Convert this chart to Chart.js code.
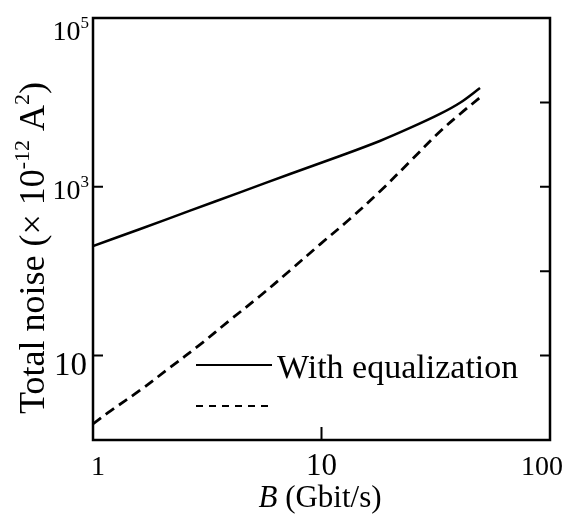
<!DOCTYPE html>
<html>
<head>
<meta charset="utf-8">
<script src="https://cdn.jsdelivr.net/npm/chart.js@4"></script>
<style>
  html, body { margin: 0; padding: 0; background: #fff; }
  #wrap { width: 577px; height: 515px; }
</style>
</head>
<body>
<div id="wrap"><canvas id="chart" width="577" height="515"></canvas></div>
<script>
// Data
const bandwidthEq = [1, 1.61, 2.66, 4.4, 7.28, 12.05, 18, 24.4, 33, 40.4, 49.4];
const noiseEq = [199, 316, 522, 860, 1418, 2317, 3491, 4977, 7300, 9900, 14800];
const bandwidthNoEq = [1, 1.19, 1.61, 2.17, 2.94, 3.98, 5.38, 7.28, 9.85, 13.3, 18, 24.4, 33, 40.4, 49.4];
const noiseNoEq = [1.55, 2.2, 3.9, 7.2, 13.5, 26.4, 50.8, 102, 208, 415, 880, 1995, 4520, 7290, 11430];

const xTickValues = [1, 10, 100];
const xTickLabels = ['1', '10', '100'];
const yLabelValues = [100000, 1000, 10];
const yLabelExp = ['5', '3', ''];
const yLeftTicks = [1000, 10];
const yRightTicks = [10000, 1000, 100, 10];
const xBottomTicks = [10];

const legendLabels = ['With equalization', ''];

// Styling
const FONT = "'Liberation Serif', 'Times New Roman', serif";
const INK = '#000';

function toPoints(xs, ys) {
  return xs.map((x, i) => ({ x: x, y: ys[i] }));
}

function richWidth(ctx, parts, size) {
  let w = 0;
  parts.forEach(p => {
    ctx.font = (p.italic ? 'italic ' : '') + (p.sup ? Math.round(size * 0.62) : size) + 'px ' + FONT;
    w += ctx.measureText(p.t).width;
  });
  return w;
}

// text with superscript pieces
function drawRich(ctx, parts, x, y, size, align) {
  const total = richWidth(ctx, parts, size);
  let cx = x;
  if (align === 'center') cx = x - total / 2;
  if (align === 'right') cx = x - total;
  ctx.textAlign = 'left';
  ctx.textBaseline = 'alphabetic';
  parts.forEach(p => {
    const s = p.sup ? Math.round(size * 0.62) : size;
    ctx.font = (p.italic ? 'italic ' : '') + s + 'px ' + FONT;
    ctx.fillText(p.t, cx, p.sup ? y - size * 0.42 : y);
    cx += ctx.measureText(p.t).width;
  });
}

const frameAndText = {
  id: 'frameAndText',
  afterDatasetsDraw(chart) {
    const { ctx, chartArea: a, scales: { x, y } } = chart;
    ctx.save();
    ctx.strokeStyle = INK;
    ctx.fillStyle = INK;
    ctx.setLineDash([]);

    // box
    ctx.lineWidth = 2.5;
    ctx.strokeRect(a.left, a.top, a.right - a.left, a.bottom - a.top);

    // tick marks, pointing inward
    ctx.lineWidth = 2;
    ctx.beginPath();
    yLeftTicks.forEach(v => {
      const py = y.getPixelForValue(v);
      ctx.moveTo(a.left, py); ctx.lineTo(a.left + 10, py);
    });
    yRightTicks.forEach(v => {
      const py = y.getPixelForValue(v);
      ctx.moveTo(a.right, py); ctx.lineTo(a.right - 10, py);
    });
    xBottomTicks.forEach(v => {
      const px = x.getPixelForValue(v);
      ctx.moveTo(px, a.bottom); ctx.lineTo(px, a.bottom - 13);
    });
    ctx.stroke();

    // y tick labels (the plain "10" is drawn a little larger, as in the original)
    const yNudge = [22, 12, 19];
    const ySize = [28, 28, 33];
    yLabelValues.forEach((v, i) => {
      const py = y.getPixelForValue(v);
      const parts = [{ t: '10' }];
      if (yLabelExp[i]) parts.push({ t: yLabelExp[i], sup: true });
      drawRich(ctx, parts, yLabelExp[i] ? a.left - 4 : a.left - 6, py + yNudge[i], ySize[i], 'right');
    });

    // x tick labels
    const xNudge = [5, 0, -8];
    const xSize = [28, 31, 28];
    xTickValues.forEach((v, i) => {
      const px = x.getPixelForValue(v);
      drawRich(ctx, [{ t: xTickLabels[i] }], px + xNudge[i], 475, xSize[i], 'center');
    });

    // x title
    drawRich(ctx, [{ t: 'B', italic: true }, { t: ' (Gbit/s)' }], 320, 507, 31, 'center');

    // y title
    ctx.save();
    ctx.translate(44, 248);
    ctx.rotate(-Math.PI / 2);
    drawRich(ctx, [
      { t: 'Total noise (× 10' }, { t: '-12', sup: true },
      { t: ' A' }, { t: '2', sup: true }, { t: ')' }
    ], 0, 0, 36, 'center');
    ctx.restore();

    // legend inside the plot
    const rows = [365, 406];
    chart.data.datasets.forEach((ds, i) => {
      ctx.lineWidth = 2;
      ctx.setLineDash(ds.borderDash && ds.borderDash.length ? [7, 6] : []);
      ctx.beginPath();
      ctx.moveTo(196, rows[i]);
      ctx.lineTo(272, rows[i]);
      ctx.stroke();
      ctx.setLineDash([]);
      if (legendLabels[i]) {
        drawRich(ctx, [{ t: legendLabels[i] }], 277, rows[i] + 13, 34, 'left');
      }
    });

    ctx.restore();
  }
};

new Chart(document.getElementById('chart').getContext('2d'), {
  type: 'line',
  data: {
    datasets: [
      {
        label: legendLabels[0],
        data: toPoints(bandwidthEq, noiseEq),
        borderColor: INK,
        borderWidth: 2.5,
        pointRadius: 0,
        tension: 0.35,
        fill: false
      },
      {
        label: legendLabels[1],
        data: toPoints(bandwidthNoEq, noiseNoEq),
        borderColor: INK,
        borderWidth: 2.8,
        borderDash: [10, 6],
        pointRadius: 0,
        tension: 0.35,
        fill: false
      }
    ]
  },
  options: {
    responsive: false,
    animation: false,
    layout: { padding: { left: 93, top: 18, right: 27, bottom: 75 } },
    plugins: {
      legend: { display: false },
      tooltip: { enabled: false }
    },
    scales: {
      x: { type: 'logarithmic', min: 1, max: 100, display: false },
      y: { type: 'logarithmic', min: 1, max: 100000, display: false }
    }
  },
  plugins: [frameAndText]
});
</script>
</body>
</html>
